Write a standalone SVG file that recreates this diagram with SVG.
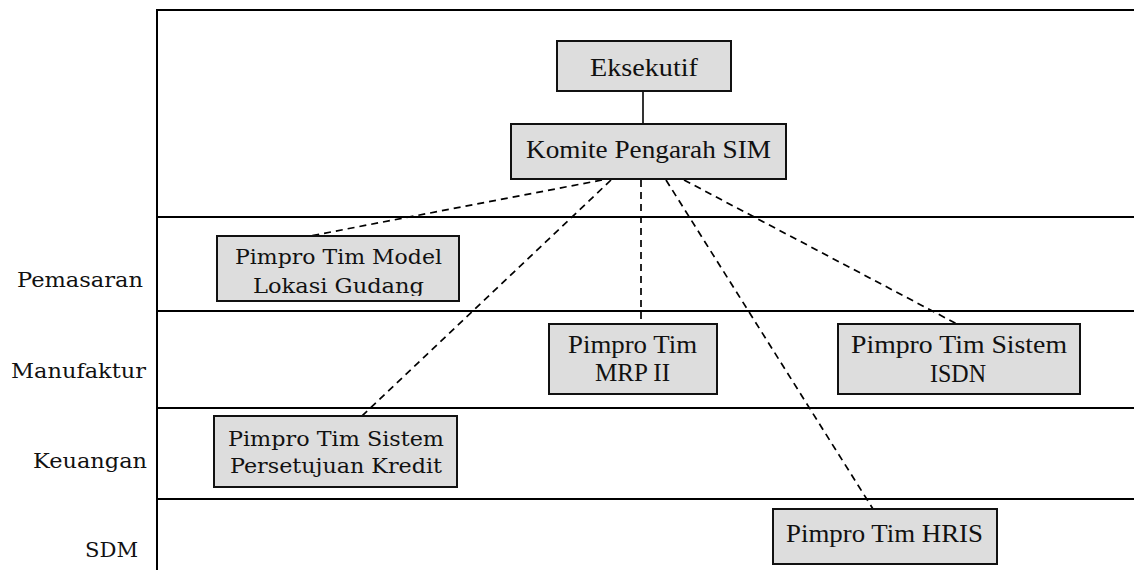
<svg xmlns="http://www.w3.org/2000/svg" width="1134" height="570" viewBox="0 0 1134 570">
<style>
.frame{stroke:#000;stroke-width:2;fill:none}
.box{fill:#dddddd;stroke:#111;stroke-width:2}
.t{font-family:"DejaVu Serif","Liberation Serif",serif;font-size:20px;fill:#111}
.s{font-family:"Liberation Serif","DejaVu Serif",serif;font-size:25px;fill:#111}
.lbl{font-family:"DejaVu Serif","Liberation Serif",serif;font-size:20px;fill:#111;text-anchor:end}
.dash{stroke:#000;stroke-width:1.7;stroke-dasharray:7 5;fill:none}
.solid{stroke:#000;stroke-width:1.6;fill:none}
</style>
<defs>
<clipPath id="clipModel"><rect x="217" y="236" width="242" height="60"/></clipPath>
</defs>
<g id="frame">
<line class="frame" x1="157" y1="10" x2="1134" y2="10"/>
<line class="frame" x1="157" y1="9" x2="157" y2="570"/>
<line class="frame" x1="157" y1="217" x2="1134" y2="217"/>
<line class="frame" x1="157" y1="311" x2="1134" y2="311"/>
<line class="frame" x1="157" y1="408" x2="1134" y2="408"/>
<line class="frame" x1="157" y1="499" x2="1134" y2="499"/>
</g>
<g id="lane-labels">
<text class="lbl" x="143" y="287" textLength="126" lengthAdjust="spacingAndGlyphs">Pemasaran</text>
<text class="lbl" x="146" y="378" textLength="135" lengthAdjust="spacingAndGlyphs">Manufaktur</text>
<text class="lbl" x="147" y="468" textLength="114" lengthAdjust="spacingAndGlyphs">Keuangan</text>
<text class="lbl" x="138" y="557" textLength="53" lengthAdjust="spacingAndGlyphs">SDM</text>
</g>
<g id="connectors">
<line class="solid" x1="643" y1="91" x2="643" y2="124"/>
<line class="dash" x1="602" y1="180" x2="310" y2="236"/>
<line class="dash" x1="611" y1="180" x2="362" y2="416"/>
<line class="dash" x1="641" y1="180" x2="641" y2="324"/>
<line class="dash" x1="666" y1="180" x2="873" y2="509"/>
<line class="dash" x1="684" y1="180" x2="957" y2="324"/>
</g>
<g id="eksekutif">
<rect class="box" x="557" y="41" width="174" height="50"/>
<text class="s" x="590" y="76" textLength="108" lengthAdjust="spacingAndGlyphs">Eksekutif</text>
</g>
<g id="komite">
<rect class="box" x="511" y="124" width="275" height="55"/>
<text class="s" x="526" y="158" textLength="245" lengthAdjust="spacingAndGlyphs">Komite Pengarah SIM</text>
</g>
<g id="model-lokasi">
<rect class="box" x="217" y="236" width="242" height="65"/>
<g clip-path="url(#clipModel)">
<text class="t" x="235" y="264" textLength="207" lengthAdjust="spacingAndGlyphs">Pimpro Tim Model</text>
<text class="t" x="253" y="293" textLength="171" lengthAdjust="spacingAndGlyphs">Lokasi Gudang</text>
</g>
</g>
<g id="mrp">
<rect class="box" x="549" y="324" width="168" height="70"/>
<text class="s" x="568" y="353" textLength="129" lengthAdjust="spacingAndGlyphs">Pimpro Tim</text>
<text class="s" x="595" y="381" textLength="75" lengthAdjust="spacingAndGlyphs">MRP II</text>
</g>
<g id="isdn">
<rect class="box" x="838" y="324" width="242" height="70"/>
<text class="s" x="851" y="353" textLength="216" lengthAdjust="spacingAndGlyphs">Pimpro Tim Sistem</text>
<text class="s" x="930" y="382" textLength="56" lengthAdjust="spacingAndGlyphs">ISDN</text>
</g>
<g id="kredit">
<rect class="box" x="214" y="416" width="243" height="71"/>
<text class="t" x="228" y="446" textLength="216" lengthAdjust="spacingAndGlyphs">Pimpro Tim Sistem</text>
<text class="t" x="230" y="473" textLength="212" lengthAdjust="spacingAndGlyphs">Persetujuan Kredit</text>
</g>
<g id="hris">
<rect class="box" x="773" y="509" width="224" height="55"/>
<text class="s" x="786" y="542" textLength="197" lengthAdjust="spacingAndGlyphs">Pimpro Tim HRIS</text>
</g>
</svg>
